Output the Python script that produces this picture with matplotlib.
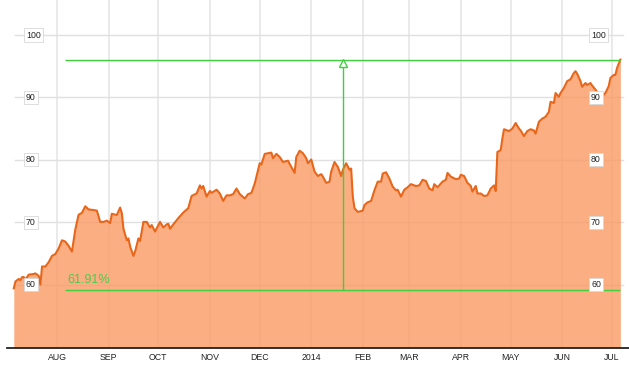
import matplotlib
matplotlib.use('Agg')
import matplotlib.pyplot as plt
import matplotlib.dates as mdates
import matplotlib.transforms as mtrans
import pandas as pd
from datetime import datetime

plt.rcParams['font.family'] = ['Liberation Sans', 'DejaVu Sans']

dates = [
    '2013-07-06', '2013-07-07', '2013-07-09', '2013-07-10', '2013-07-11', '2013-07-12', '2013-07-13',
    '2013-07-15', '2013-07-18', '2013-07-19', '2013-07-21', '2013-07-22', '2013-07-23', '2013-07-25',
    '2013-07-27', '2013-07-29', '2013-07-31', '2013-08-02', '2013-08-04', '2013-08-06', '2013-08-08',
    '2013-08-10', '2013-08-12', '2013-08-14', '2013-08-16', '2013-08-18', '2013-08-20', '2013-08-23',
    '2013-08-25', '2013-08-27', '2013-08-29', '2013-08-31', '2013-09-02', '2013-09-03', '2013-09-06',
    '2013-09-08', '2013-09-09', '2013-09-10', '2013-09-12', '2013-09-13', '2013-09-14', '2013-09-16',
    '2013-09-17', '2013-09-19', '2013-09-20', '2013-09-22', '2013-09-24', '2013-09-26', '2013-09-27',
    '2013-09-29', '2013-10-01', '2013-10-02', '2013-10-04', '2013-10-06', '2013-10-07', '2013-10-08',
    '2013-10-10', '2013-10-13', '2013-10-16', '2013-10-19', '2013-10-21', '2013-10-24', '2013-10-26',
    '2013-10-27', '2013-10-28', '2013-10-30', '2013-11-01', '2013-11-02', '2013-11-05', '2013-11-07',
    '2013-11-09', '2013-11-11', '2013-11-13', '2013-11-15', '2013-11-17', '2013-11-19', '2013-11-22',
    '2013-11-24', '2013-11-26', '2013-11-28', '2013-12-01', '2013-12-02', '2013-12-04', '2013-12-06',
    '2013-12-08', '2013-12-09', '2013-12-11', '2013-12-13', '2013-12-15', '2013-12-18', '2013-12-20',
    '2013-12-22', '2013-12-23', '2013-12-25', '2013-12-27', '2013-12-29', '2013-12-30', '2014-01-01',
    '2014-01-03', '2014-01-05', '2014-01-07', '2014-01-08', '2014-01-10', '2014-01-12', '2014-01-13',
    '2014-01-15', '2014-01-17', '2014-01-19', '2014-01-20', '2014-01-22', '2014-01-24', '2014-01-25',
    '2014-01-26', '2014-01-27', '2014-01-29', '2014-02-01', '2014-02-02', '2014-02-04', '2014-02-06',
    '2014-02-08', '2014-02-10', '2014-02-12', '2014-02-13', '2014-02-15', '2014-02-17', '2014-02-19',
    '2014-02-21', '2014-02-22', '2014-02-24', '2014-02-26', '2014-02-28', '2014-03-02', '2014-03-05',
    '2014-03-07', '2014-03-09', '2014-03-11', '2014-03-13', '2014-03-15', '2014-03-16', '2014-03-18',
    '2014-03-21', '2014-03-23', '2014-03-24', '2014-03-26', '2014-03-29', '2014-03-31', '2014-04-01',
    '2014-04-03', '2014-04-05', '2014-04-07', '2014-04-08', '2014-04-10', '2014-04-11', '2014-04-13',
    '2014-04-15', '2014-04-17', '2014-04-19', '2014-04-21', '2014-04-22', '2014-04-23', '2014-04-25',
    '2014-04-26', '2014-04-27', '2014-04-30', '2014-05-02', '2014-05-04', '2014-05-06', '2014-05-07',
    '2014-05-09', '2014-05-11', '2014-05-13', '2014-05-15', '2014-05-16', '2014-05-18', '2014-05-20',
    '2014-05-22', '2014-05-24', '2014-05-25', '2014-05-27', '2014-05-28', '2014-05-30', '2014-05-31',
    '2014-06-02', '2014-06-04', '2014-06-06', '2014-06-08', '2014-06-09', '2014-06-10', '2014-06-12',
    '2014-06-13', '2014-06-15', '2014-06-16', '2014-06-18', '2014-06-19', '2014-06-23', '2014-06-25',
    '2014-06-27', '2014-06-29', '2014-06-30', '2014-07-02', '2014-07-03', '2014-07-04', '2014-07-06',
]
prices = [
    59.4, 60.5, 60.9, 60.7, 61.2, 61.2, 60.8,
    61.6, 61.7, 61.8, 61.4, 60.0, 62.9, 62.9,
    63.6, 64.6, 64.9, 65.8, 67.1, 66.9, 66.2,
    65.3, 68.8, 71.2, 71.5, 72.55, 72.05, 71.95,
    71.85, 70.05, 70.05, 70.25, 69.85, 71.35, 71.15,
    72.35, 71.45, 68.95, 67.1, 67.4, 66.1, 64.6,
    65.3, 67.4, 67.0, 70.05, 70.05, 69.15, 69.55,
    68.5, 69.55, 70.05, 69.15, 69.65, 69.75, 68.95,
    69.65, 70.65, 71.55, 72.25, 74.2, 74.6, 75.9,
    75.4, 75.8, 74.1, 75.0, 74.7, 75.2, 74.6,
    73.4, 74.3, 74.3, 74.5, 75.4, 74.5, 73.8,
    74.5, 74.7, 76.2, 79.45, 79.25, 80.95, 81.05,
    81.15, 80.25, 80.95, 80.45, 79.65, 79.85, 78.85,
    77.9, 80.45, 81.45, 81.05, 80.25, 79.45, 80.05,
    78.1, 77.4, 77.7, 77.3, 76.3, 76.5, 78.1,
    79.65, 78.85, 77.4, 78.4, 79.45, 78.4, 78.6,
    74.1, 72.25, 71.65, 71.85, 72.75, 73.2, 73.4,
    75.1, 76.5, 76.5, 77.8, 78.0, 77.0, 75.7,
    75.1, 75.2, 74.1, 75.2, 75.6, 76.1, 75.8,
    75.9, 76.8, 76.6, 75.4, 75.1, 76.1, 75.6,
    76.5, 76.8, 77.9, 77.3, 76.9, 77.0, 77.6,
    77.4, 76.3, 75.8, 74.9, 75.8, 74.6, 74.6,
    74.2, 74.3, 75.4, 75.9, 75.0, 81.25, 81.55,
    83.4, 84.9, 84.6, 85.0, 85.9, 85.0, 84.7,
    83.8, 84.6, 84.9, 84.7, 84.2, 86.1, 86.6,
    86.9, 87.7, 89.3, 89.1, 90.7, 90.1, 90.7,
    91.5, 92.6, 92.9, 93.9, 94.2, 93.8, 92.6,
    91.7, 92.3, 92.0, 92.3, 91.9, 90.6, 90.1,
    90.7, 91.8, 93.1, 93.6, 93.6, 94.7, 96.05,
]

month_ticks = ['2013-08-01', '2013-09-01', '2013-10-01', '2013-11-01', '2013-12-01', '2014-01-01',
               '2014-02-01', '2014-03-01', '2014-04-01', '2014-05-01', '2014-06-01', '2014-07-01']
month_labels = ['AUG', 'SEP', 'OCT', 'NOV', 'DEC', '2014', 'FEB', 'MAR', 'APR', 'MAY', 'JUN', 'JUL']
y_ticks = [60, 70, 80, 90, 100]
y_tick_labels = ['60', '70', '80', '90', '100']

range_start = '2013-08-06'
range_end = '2014-07-06'
range_mid = '2014-01-20'
range_low = 59.2
range_high = 96.0
range_label = '61.91%'

W, H = 629, 366
fig = plt.figure(figsize=(W / 100, H / 100), dpi=100)
ax = fig.add_axes([0, 18 / H, 1, 348 / H])

x = mdates.date2num(pd.to_datetime(dates))
base = mdates.date2num(datetime(2013, 8, 1))
ax.set_xlim(base - 34.3, base + 344.2)
ymin, ymax = 49.84, 105.61
ax.set_ylim(ymin, ymax)
for s in ax.spines.values():
    s.set_visible(False)
ax.set_yticks([])

mt = mdates.date2num(pd.to_datetime(month_ticks))
ax.set_xticks(mt)
ax.set_xticklabels(month_labels, fontsize=6.3, color='#222222')
ax.tick_params(axis='x', length=0, pad=3.5)

for t in mt:
    ax.axvline(t, color='#e8e8e8', lw=1.3, zorder=0)
for v in y_ticks:
    ax.axhline(v, xmin=15 / W, xmax=623 / W, color='#e0e0e0', lw=1.0, zorder=0)

ax.fill_between(x, prices, ymin, color='#FA9C66', alpha=0.82, lw=0, zorder=1)
ax.plot(x, prices, color='#E8661A', lw=1.5, zorder=3, solid_joinstyle='round')

ax.axhline(ymin, xmin=7 / W, xmax=1, color='#222222', lw=1.3, clip_on=False, zorder=5)

green = '#3fcf3f'
xs, xe, xm = mdates.date2num(pd.to_datetime([range_start, range_end, range_mid]))
ax.hlines([range_high, range_low], xs, xe, color=green, lw=1.0, zorder=4)
ax.vlines(xm, range_low, range_high - 0.9, color=green, lw=1.0, zorder=4)
ax.plot([xm], [range_high - 0.55], marker='^', ms=6, mfc='white', mec=green, mew=1.0, zorder=4)
ax.annotate(range_label, (xs, range_low), xytext=(1.5, 2.5), textcoords='offset points',
            fontsize=9, color='#4ccc4c', ha='left', va='bottom', zorder=4)

trans = mtrans.blended_transform_factory(ax.transAxes, ax.transData)
box = dict(boxstyle='square,pad=0.25', fc='white', ec='#d8d8d8', lw=0.6)
for v, lab in zip(y_ticks, y_tick_labels):
    ax.text(26 / W, v, lab, transform=trans, fontsize=6.3, color='#222222', ha='left', va='center',
            bbox=box, zorder=6)
    ax.text(591 / W, v, lab, transform=trans, fontsize=6.3, color='#222222', ha='left', va='center',
            bbox=box, zorder=6)

fig.savefig('out.png', dpi=100)
